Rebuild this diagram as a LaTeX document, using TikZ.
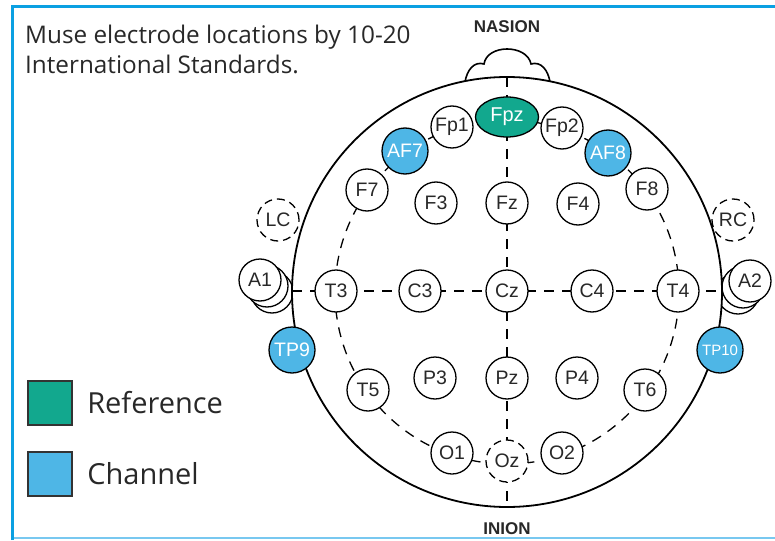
\documentclass[tikz,border=0pt]{standalone}
\usepackage{fontspec}
\setmainfont{Liberation Sans}
\newfontfamily\titlefont{Open Sans}
\usepackage{tikz}
\usetikzlibrary{shapes.geometric,positioning}

\definecolor{refgreen}{RGB}{18,168,142}
\definecolor{chanblue}{RGB}{78,182,230}
\definecolor{framblue}{RGB}{10,160,226}
\definecolor{framlight}{RGB}{120,200,240}
\definecolor{inkgray}{RGB}{40,40,40}

\begin{document}
\begin{tikzpicture}
        [x=1pt, y=-1pt,
        estyle/.style={circle, draw=black, fill=white, line width=1.3pt, inner sep=0pt, minimum size=42pt,
            text=inkgray, font=\fontsize{19.5}{19.5}\selectfont},
        cstyle/.style={estyle, fill=chanblue, text=white, minimum size=46pt},
        rstyle/.style={ellipse, draw=black, fill=refgreen, line width=1.3pt, inner sep=0pt,
            minimum width=63pt, minimum height=40pt, text=white, font=\fontsize{20}{20}\selectfont},
        ostyle/.style={estyle, dash pattern=on 8pt off 5pt},
        gstyle/.style={dash pattern=on 10pt off 8pt, line width=1.3pt},
        bstyle/.style={draw=black!80, line width=1.5pt, minimum size=44pt, inner sep=0pt},
        lstyle/.style={text=inkgray, font=\titlefont\fontsize{29}{29}\selectfont}]

        \useasboundingbox (0,0) rectangle (775,540);

        % frame
        \draw[framlight, line width=1.5pt] (12,538) -- (775,538);
        \draw[framblue, line width=3pt] (12,540) -- (12,6.5) -- (775,6.5);

        % title
        \node[anchor=north west, align=left, inner sep=0pt, text=inkgray, font=\titlefont\fontsize{24.3}{30}\selectfont]
            (title) at (25,25) {Muse electrode locations by 10-20\\International Standards.};

        % ears (lobes behind)
        \draw[line width=1.3pt, fill=white] (272,292) circle (21pt);
        \draw[line width=1.3pt, fill=white] (267,286) circle (21pt);
        \draw[line width=1.3pt, fill=white] (738,293) circle (21pt);
        \draw[line width=1.3pt, fill=white] (743,287) circle (21pt);

        % nose and head
        \draw[line width=1.6pt, fill=white] (465,82) .. controls (467,70) and (474,61) .. (484,64)
            .. controls (487,44) and (527,44) .. (531,64)
            .. controls (541,61) and (548,70) .. (550,82);
        \draw[line width=1.8pt, fill=white] (507,292) circle (215pt);
        \node[font=\bfseries\fontsize{17}{17}\selectfont, text=inkgray] (nasion) at (507,27) {NASION};
        \node[font=\bfseries\fontsize{17}{17}\selectfont, text=inkgray] (inion) at (507,529) {INION};

        % grid lines
        \coordinate (top) at (507,77);
        \coordinate (bot) at (507,507);
        \coordinate (lft) at (292,291);
        \coordinate (rgt) at (722,291);
        \draw[gstyle] (top) -- (bot);
        \draw[gstyle] (lft) -- (rgt);
        \draw[gstyle] (507,292) circle (172pt);

        % side electrodes
        \node[ostyle] (LC) at (278,220) {LC};
        \node[ostyle] (RC) at (733,220) {RC};
        \node[estyle] (A1) at (260,280) {A1};
        \node[estyle] (A2) at (750,281) {A2};
        \node[cstyle] (TP9) at (292,350) {TP9};
        \node[cstyle, font=\fontsize{15}{15}\selectfont] (TP10) at (720,350) {TP10};

        % ring
        \node[rstyle] (Fpz) at (507,117) {Fpz};
        \node[estyle] (Fp1) at (452,127) {Fp1};
        \node[estyle] (Fp2) at (562,128) {Fp2};
        \node[cstyle] (AF7) at (405,151) {AF7};
        \node[cstyle] (AF8) at (608,153) {AF8};
        \node[estyle] (F7) at (367,190) {F7};
        \node[estyle] (F8) at (647,189) {F8};
        \node[estyle] (T3) at (336,291) {T3};
        \node[estyle] (T4) at (678,291) {T4};
        \node[estyle] (T5) at (368,390) {T5};
        \node[estyle] (T6) at (645,390) {T6};
        \node[estyle] (O1) at (452,453) {O1};
        \node[ostyle] (Oz) at (507,461) {Oz};
        \node[estyle] (O2) at (562,453) {O2};

        % inner
        \node[estyle] (F3) at (436,203) {F3};
        \node[estyle] (Fz) at (507,203) {Fz};
        \node[estyle] (F4) at (578,204) {F4};
        \node[estyle] (C3) at (420,291) {C3};
        \node[estyle] (Cz) at (507,291) {Cz};
        \node[estyle] (C4) at (592,291) {C4};
        \node[estyle] (P3) at (435,378) {P3};
        \node[estyle] (Pz) at (507,378) {Pz};
        \node[estyle] (P4) at (577,378) {P4};

        % legend
        \node[bstyle, fill=refgreen] (refbox) at (50,403) {};
        \node[bstyle, fill=chanblue] (chanbox) at (50,474) {};
        \node[lstyle, right=11pt of refbox] (reflabel) {Reference};
        \node[lstyle, right=11pt of chanbox] (chanlabel) {Channel};
    \end{tikzpicture}
\end{document}
